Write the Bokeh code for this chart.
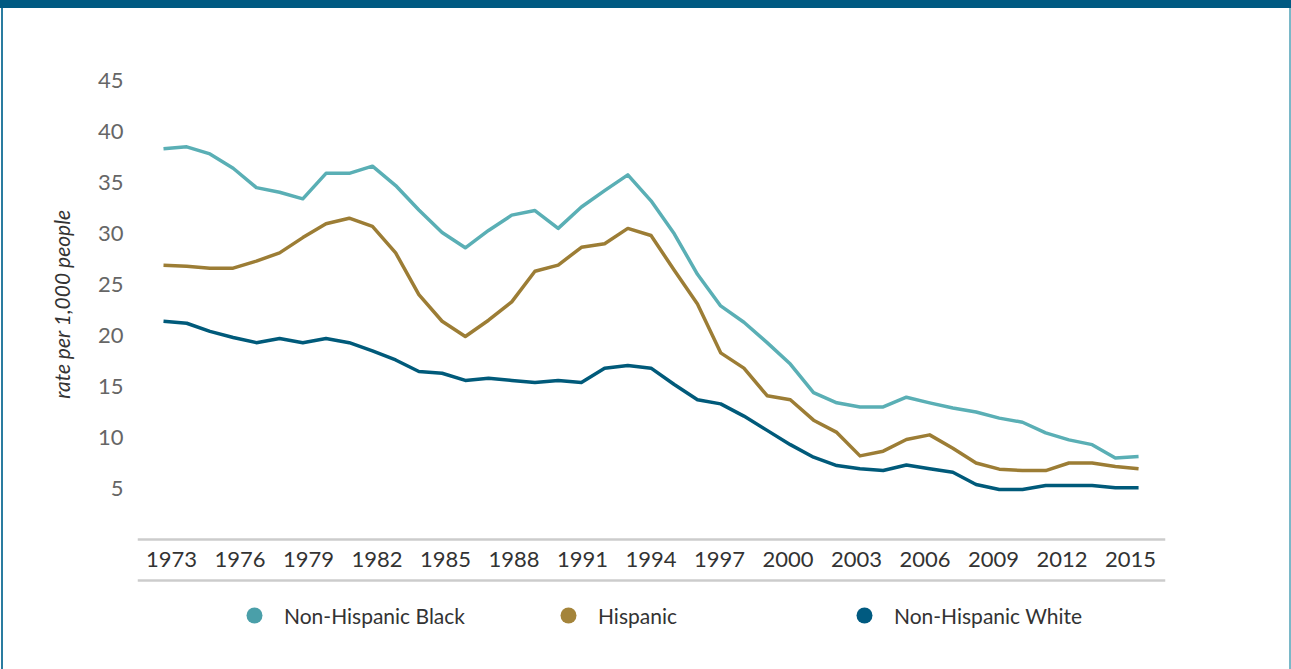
from bokeh.plotting import figure
from bokeh.models import (Range1d, LinearAxis, FixedTicker, Legend, LegendItem,
                          Title, Span)
from bokeh.embed import file_html
from bokeh.resources import INLINE

years = list(range(1973, 2016))
black = [38.3, 38.5, 37.8, 36.4, 34.5, 34.05, 33.4, 35.9, 35.9, 36.6,
         34.7, 32.3, 30.1, 28.6, 30.3, 31.8, 32.25, 30.5, 32.6, 34.2,
         35.75, 33.2, 29.97, 26.0, 22.9, 21.3, 19.3, 17.2, 14.4, 13.4,
         13.0, 13.0, 13.95, 13.4, 12.9, 12.5, 11.9, 11.5, 10.45, 9.77,
         9.3, 8.0, 8.14]
hispanic = [26.9, 26.8, 26.6, 26.6, 27.3, 28.1, 29.6, 30.95, 31.5, 30.7,
            28.1, 24.0, 21.4, 19.9, 21.5, 23.3, 26.3, 26.9, 28.65, 29.0,
            30.5, 29.8, 26.4, 23.1, 18.3, 16.8, 14.1, 13.7, 11.7, 10.5,
            8.2, 8.66, 9.8, 10.26, 8.95, 7.5, 6.9, 6.76, 6.76, 7.5,
            7.5, 7.15, 6.93]
white = [21.4, 21.2, 20.4, 19.8, 19.3, 19.7, 19.3, 19.7, 19.3, 18.5,
         17.6, 16.47, 16.3, 15.6, 15.8, 15.6, 15.4, 15.6, 15.4, 16.8,
         17.06, 16.8, 15.2, 13.7, 13.3, 12.1, 10.7, 9.3, 8.07, 7.25,
         6.93, 6.76, 7.3, 6.93, 6.6, 5.4, 4.9, 4.9, 5.3, 5.3,
         5.3, 5.07, 5.07]
series_names = ["Non-Hispanic Black", "Hispanic", "Non-Hispanic White"]
line_colors = ["#5aafb5", "#9c7d35", "#005a7a"]
dot_colors = ["#4a9fa9", "#a4843a", "#005a80"]
x_ticks = list(range(1973, 2016, 3))
y_ticks = [5, 10, 15, 20, 25, 30, 35, 40, 45]
y_title = "rate per 1,000 people"

FONT = "Lato"
FS = "22px"

p = figure(width=1291, height=669, output_backend="svg", toolbar_location=None,
           x_axis_type=None, y_axis_type=None,
           x_range=Range1d(1971.88, 2016.16), y_range=Range1d(-11.86, 45),
           min_border_left=137, min_border_right=126,
           min_border_top=80, min_border_bottom=9)
# the year labels in the source are spread slightly tighter than the data points
p.extra_x_ranges = {"labels": Range1d(1971.51, 2016.53)}
p.outline_line_color = None
p.background_fill_color = "white"
p.border_fill_color = None
p.styles = {"box-shadow": "inset 0 8px 0 0 #005a82, inset 1px 0 0 0 #ffffff, "
                          "inset 3px 0 0 0 #2a7ca0, inset -2px 0 0 0 #7ab8c8",
            "background-color": "white"}

# y axis
yax = LinearAxis(ticker=FixedTicker(ticks=y_ticks))
yax.axis_line_color = None
yax.major_tick_line_color = None
yax.minor_tick_line_color = None
yax.major_tick_out = 0
yax.major_tick_in = 0
yax.major_label_text_font = FONT
yax.major_label_text_font_size = FS
yax.major_label_text_color = "#666666"
yax.major_label_standoff = 14
p.add_layout(yax, "left")

# leading no-break spaces lift the centred title to where the source has it
p.add_layout(Title(text="\u00a0" * 27 + y_title, align="center", standoff=41,
                   text_font=FONT, text_font_style="italic", text_font_size="21px",
                   text_color="#333333"), "left")

# x axis at zero
xax = LinearAxis(ticker=FixedTicker(ticks=x_ticks), fixed_location=0,
                 x_range_name="labels")
xax.axis_line_color = "#cccccc"
xax.axis_line_width = 2.5
xax.major_tick_line_color = None
xax.minor_tick_line_color = None
xax.major_tick_out = 0
xax.major_tick_in = 0
xax.major_label_text_font = FONT
xax.major_label_text_font_size = FS
xax.major_label_text_color = "#333333"
xax.major_label_standoff = 12
p.add_layout(xax, "below")

# lower rule under the year labels
p.add_layout(Span(location=-4.02, dimension="width", line_color="#cccccc", line_width=2.5))

p.xgrid.visible = False
p.ygrid.ticker = FixedTicker(ticks=y_ticks)
p.ygrid.grid_line_color = "#d0d0d0"
p.ygrid.grid_line_width = 2

items = []
for name, vals, lc, dc in zip(series_names, [black, hispanic, white], line_colors, dot_colors):
    p.line(years, vals, line_color=lc, line_width=3.5, line_join="round")
    r = p.scatter(years, vals, marker="circle", size=0, fill_color=dc, line_color=None)
    items.append(LegendItem(label=name, renderers=[r]))

lg = Legend(items=items, location=(97, 25), orientation="horizontal",
            glyph_width=40, glyph_height=40, label_standoff=10, label_width=163,
            padding=0, margin=0, spacing=83,
            border_line_color=None, background_fill_alpha=0,
            label_text_font=FONT, label_text_font_size="21px",
            label_text_color="#333333")
p.add_layout(lg, "center")

open("out.html", "w").write(file_html(p, INLINE))
